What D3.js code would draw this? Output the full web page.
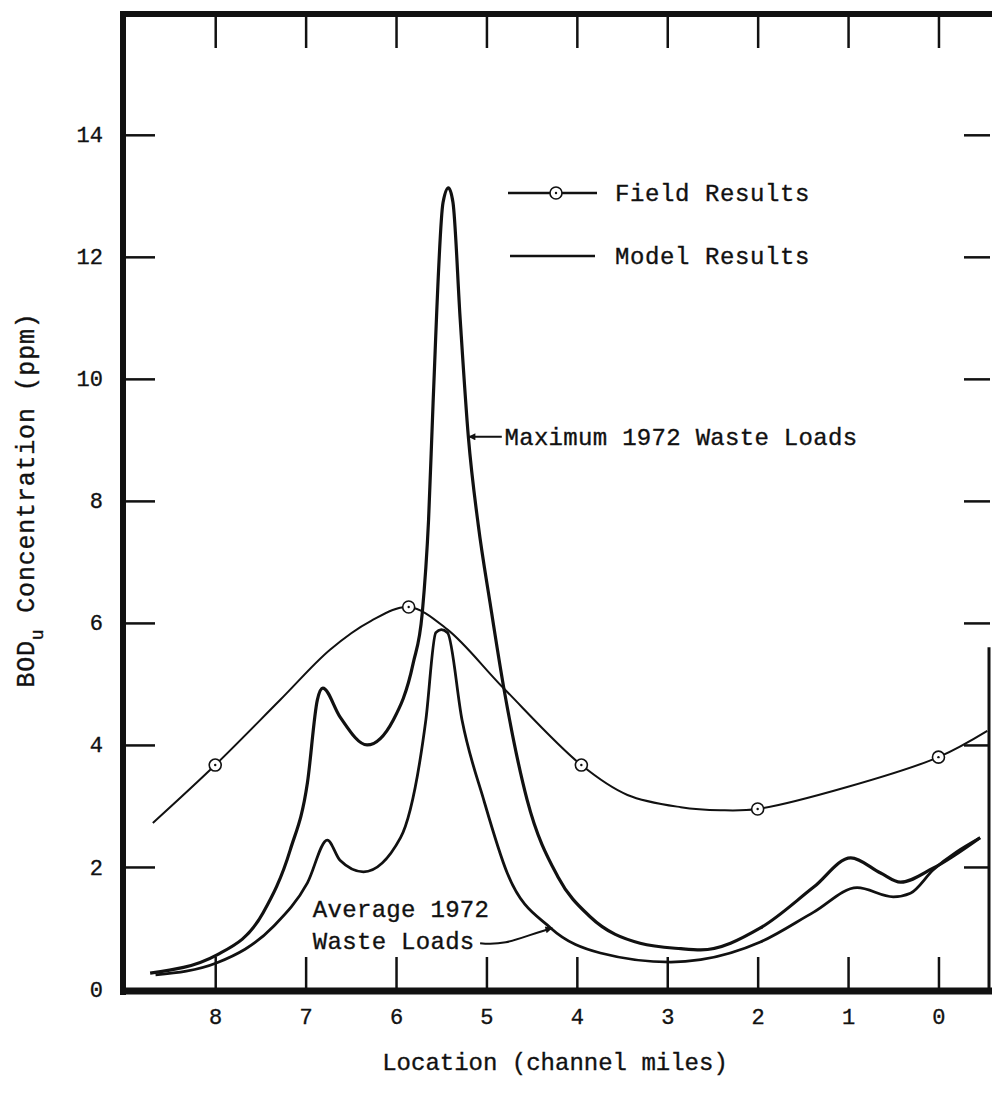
<!DOCTYPE html>
<html>
<head>
<meta charset="utf-8">
<script src="https://cdn.jsdelivr.net/npm/d3@7"></script>
<style>
  body { margin: 0; background: #fff; }
  svg text { font-family: "Liberation Mono", "DejaVu Sans Mono", monospace; fill: #111; stroke: #111; stroke-width: 0.35px; }
</style>
</head>
<body>
<svg id="chart" width="992" height="1100"></svg>
<script>
// values (miles upstream, ppm)
var fieldObsMiles = [8.0, 5.86, 3.95, 2.0, 0.0];
var fieldObsPpm   = [3.67, 6.26, 3.67, 2.95, 3.80];

var fieldCurveMiles = [8.69, 8.0, 7.28, 6.73, 6.28, 5.86, 5.43, 4.81, 3.95, 3.44, 2.85, 2.41, 2.0, 1.01, 0.0, -0.54];
var fieldCurvePpm   = [2.72, 3.67, 4.74, 5.56, 6.03, 6.26, 5.89, 4.93, 3.67, 3.18, 2.98, 2.93, 2.95, 3.31, 3.80, 4.23];

var maxMiles = [8.72, 7.98, 7.47, 7.17, 6.98, 6.87, 6.81, 6.62, 6.32, 6.03, 5.81, 5.71, 5.64, 5.59, 5.48, 5.42, 5.37, 5.29, 5.20, 5.09, 4.96, 4.81, 4.55, 4.21, 3.85, 3.30, 2.85, 2.63, 1.97, 1.38, 0.97, 0.64, 0.42, 0.06, -0.46];
var maxPpm   = [0.26, 0.56, 1.25, 2.28, 3.38, 4.74, 4.93, 4.46, 4.00, 4.41, 5.34, 6.16, 7.69, 9.61, 12.89, 13.13, 12.89, 10.97, 9.05, 7.60, 6.33, 4.95, 3.10, 1.84, 1.18, 0.75, 0.66, 0.64, 1.00, 1.67, 2.15, 1.90, 1.75, 1.98, 2.48];

var avgMiles = [8.66, 7.98, 7.36, 6.98, 6.76, 6.62, 6.36, 5.95, 5.67, 5.56, 5.50, 5.43, 5.27, 5.03, 4.77, 4.29, 3.74, 2.96, 2.63, 1.97, 1.38, 0.90, 0.50, 0.31, 0.06, -0.46];
var avgPpm   = [0.23, 0.43, 1.02, 1.74, 2.44, 2.11, 1.92, 2.48, 4.41, 5.84, 5.89, 5.84, 4.41, 3.10, 1.90, 1.00, 0.59, 0.44, 0.48, 0.77, 1.26, 1.66, 1.51, 1.57, 1.95, 2.48];

var xTicks = [8, 7, 6, 5, 4, 3, 2, 1, 0];
var yTicks = [0, 2, 4, 6, 8, 10, 12, 14];

var svg = d3.select("#chart");
var margin = { top: 14, right: 2, bottom: 109, left: 123 };
var width = +svg.attr("width") - margin.left - margin.right;
var height = +svg.attr("height") - margin.top - margin.bottom;
var g = svg.append("g").attr("transform", "translate(" + margin.left + "," + margin.top + ")");

var x = d3.scaleLinear().domain([9.02, -0.57]).range([0, width]);
var y = d3.scaleLinear().domain([-0.033, 15.98]).range([height, 0]);

function zip(a, b) { return a.map(function (d, i) { return [d, b[i]]; }); }

var ink = "#111";

// ticks (all pointing inward)
function styleAxis(sel) {
  sel.select(".domain").remove();
  sel.selectAll(".tick line").attr("stroke", ink).attr("stroke-width", 2.5);
  sel.selectAll(".tick text").attr("font-size", 22).attr("fill", ink);
}

g.append("g")
  .attr("class", "axis")
  .call(d3.axisLeft(y).tickValues(yTicks).tickSize(-32).tickPadding(20).tickFormat(d3.format("d")))
  .call(styleAxis)
  .call(function (a) { a.selectAll(".tick").filter(function (d) { return d === 0; }).select("line").remove(); });

g.append("g")
  .attr("class", "axis")
  .attr("transform", "translate(0," + y(0) + ")")
  .call(d3.axisBottom(x).tickValues(xTicks).tickSize(-32).tickPadding(19).tickFormat(d3.format("d")))
  .call(styleAxis);

g.append("g")
  .attr("class", "axis")
  .call(d3.axisTop(x).tickValues(xTicks).tickSize(-34).tickFormat(""))
  .call(styleAxis);

g.append("g")
  .attr("class", "axis")
  .attr("transform", "translate(" + width + ",0)")
  .call(d3.axisRight(y).tickValues(yTicks.slice(1)).tickSize(-26).tickFormat(""))
  .call(styleAxis);

// heavy frame
g.append("line").attr("x1", 0).attr("x2", 0).attr("y1", -3).attr("y2", height + 4)
  .attr("stroke", ink).attr("stroke-width", 6);
g.append("line").attr("x1", -3).attr("x2", width + 2).attr("y1", 0).attr("y2", 0)
  .attr("stroke", ink).attr("stroke-width", 6);
g.append("line").attr("x1", -3).attr("x2", width + 2).attr("y1", height).attr("y2", height)
  .attr("stroke", ink).attr("stroke-width", 7);
g.append("line").attr("x1", width - 1).attr("x2", width - 1).attr("y1", y(5.6)).attr("y2", height)
  .attr("stroke", ink).attr("stroke-width", 3);

// model curves
var modelLine = d3.line()
  .x(function (d) { return x(d[0]); })
  .y(function (d) { return y(d[1]); })
  .curve(d3.curveMonotoneX);

g.append("path").datum(zip(maxMiles, maxPpm))
  .attr("d", modelLine).attr("fill", "none").attr("stroke", ink).attr("stroke-width", 3.2);
g.append("path").datum(zip(avgMiles, avgPpm))
  .attr("d", modelLine).attr("fill", "none").attr("stroke", ink).attr("stroke-width", 2.8);

// field curve + observations
var fieldLine = d3.line()
  .x(function (d) { return x(d[0]); })
  .y(function (d) { return y(d[1]); })
  .curve(d3.curveCatmullRom.alpha(0.5));

g.append("path").datum(zip(fieldCurveMiles, fieldCurvePpm))
  .attr("d", fieldLine).attr("fill", "none").attr("stroke", ink).attr("stroke-width", 2);

var obs = g.selectAll(".obs").data(zip(fieldObsMiles, fieldObsPpm)).enter().append("g")
  .attr("class", "obs")
  .attr("transform", function (d) { return "translate(" + x(d[0]) + "," + y(d[1]) + ")"; });
obs.append("circle").attr("r", 6).attr("fill", "#fff").attr("stroke", ink).attr("stroke-width", 1.6);
obs.append("circle").attr("r", 1.2).attr("fill", ink);

// legend
var legend = g.append("g").attr("transform", "translate(" + (508 - margin.left) + "," + (193 - margin.top) + ")");
legend.append("line").attr("x1", 0).attr("x2", 89).attr("y1", 0).attr("y2", 0)
  .attr("stroke", ink).attr("stroke-width", 2.5);
legend.append("circle").attr("cx", 48).attr("cy", 0).attr("r", 6)
  .attr("fill", "#fff").attr("stroke", ink).attr("stroke-width", 1.6);
legend.append("circle").attr("cx", 48).attr("cy", 0).attr("r", 1.2).attr("fill", ink);
legend.append("text").attr("x", 107).attr("y", 0).attr("dy", "0.35em")
  .attr("font-size", 24).attr("letter-spacing", 0.6).text("Field Results");
legend.append("line").attr("x1", 2).attr("x2", 87).attr("y1", 63).attr("y2", 63)
  .attr("stroke", ink).attr("stroke-width", 2.5);
legend.append("text").attr("x", 107).attr("y", 63).attr("dy", "0.35em")
  .attr("font-size", 24).attr("letter-spacing", 0.6).text("Model Results");

// annotations
var defs = svg.append("defs");
defs.append("marker")
  .attr("id", "head")
  .attr("viewBox", "0 -5 10 10")
  .attr("refX", 10).attr("refY", 0)
  .attr("markerUnits", "userSpaceOnUse")
  .attr("markerWidth", 16).attr("markerHeight", 7)
  .attr("orient", "auto")
  .append("path").attr("d", "M0,-5L10,0L0,5Z").attr("fill", ink);

g.append("line")
  .attr("x1", x(4.83)).attr("y1", y(9.05))
  .attr("x2", x(5.20)).attr("y2", y(9.05))
  .attr("stroke", ink).attr("stroke-width", 2).attr("marker-end", "url(#head)");
g.append("text").attr("x", x(4.80)).attr("y", y(9.05)).attr("dy", "0.35em")
  .attr("font-size", 24).attr("letter-spacing", 0.3).text("Maximum 1972 Waste Loads");

g.append("text").attr("x", x(6.92)).attr("y", y(1.31)).attr("dy", "0.35em")
  .attr("font-size", 24).attr("letter-spacing", 0.3).text("Average 1972");
g.append("text").attr("x", x(6.92)).attr("y", y(0.80)).attr("dy", "0.35em")
  .attr("font-size", 24).attr("letter-spacing", 0.3).text("Waste Loads");

var sx = x(5.07), sy = y(0.75), tx = x(4.27), ty = y(1.0);
g.append("path")
  .attr("d", "M" + sx + "," + sy + "C" + (sx + 28) + "," + (sy + 3) + " " + (tx - 32) + "," + (ty + 9) + " " + tx + "," + ty)
  .attr("fill", "none").attr("stroke", ink).attr("stroke-width", 2).attr("marker-end", "url(#head)");

// axis titles
svg.append("text")
  .attr("x", 555).attr("y", 1062).attr("dy", "0.35em")
  .attr("text-anchor", "middle").attr("font-size", 24)
  .text("Location (channel miles)");

var yt = svg.append("text")
  .attr("transform", "translate(34,500) rotate(-90)")
  .attr("text-anchor", "middle").attr("font-size", 25).attr("letter-spacing", 0.8);
yt.append("tspan").text("BOD");
yt.append("tspan").attr("dy", 9).attr("font-size", 18).text("u");
yt.append("tspan").attr("dy", -9).text(" Concentration (ppm)");
</script>
</body>
</html>
